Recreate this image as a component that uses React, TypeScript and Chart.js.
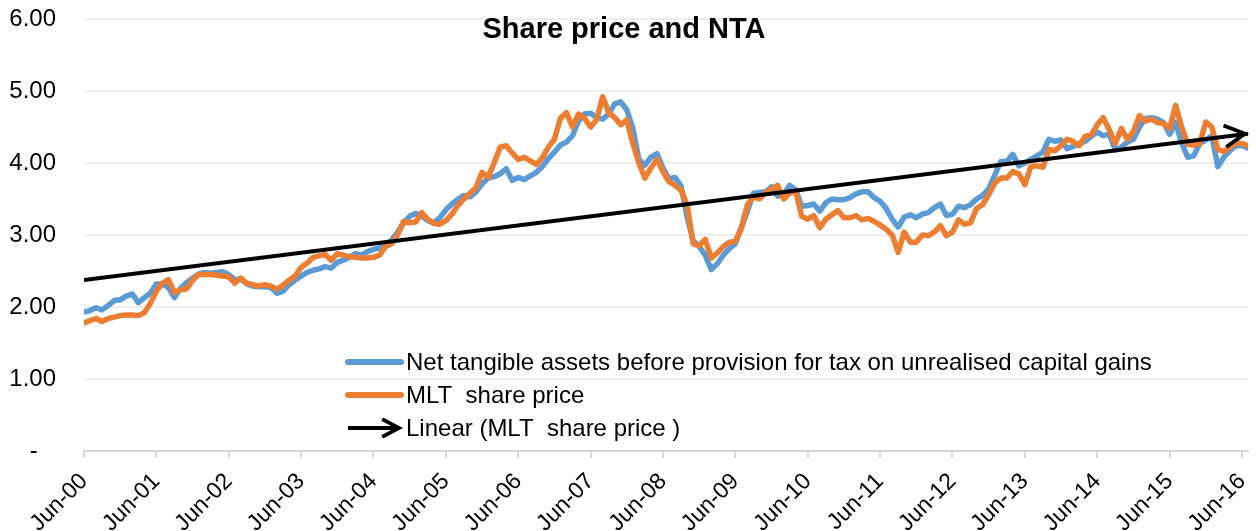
import React, { useEffect, useRef } from "react";
import { Chart, registerables } from "chart.js";

Chart.register(...registerables);

const FONT = "'Liberation Sans', Arial, sans-serif";

const TITLE = "Share price and NTA";

const SERIES_LABELS = [
  "Net tangible assets before provision for tax on unrealised capital gains",
  "MLT  share price",
  "Linear (MLT  share price )",
];

// Monthly observations, Jun-00 (index 0) to Jul-16 (index 193)
const NTA = [
  1.93, 1.95, 1.99, 1.96, 2.02, 2.09, 2.10, 2.15, 2.18, 2.06, 2.13, 2.19,
  2.32, 2.32, 2.27, 2.13, 2.26, 2.34, 2.40, 2.46, 2.48, 2.47, 2.48, 2.49,
  2.45, 2.38, 2.39, 2.32, 2.29, 2.28, 2.28, 2.27, 2.19, 2.22, 2.31, 2.37,
  2.43, 2.48, 2.51, 2.53, 2.56, 2.54, 2.62, 2.65, 2.69, 2.74, 2.72, 2.77,
  2.80, 2.82, 2.86, 2.93, 3.04, 3.17, 3.26, 3.30, 3.26, 3.20, 3.17, 3.24,
  3.35, 3.43, 3.50, 3.55, 3.53, 3.60, 3.71, 3.79, 3.81, 3.85, 3.92, 3.76,
  3.80, 3.77, 3.82, 3.87, 3.95, 4.06, 4.15, 4.25, 4.29, 4.38, 4.58, 4.68,
  4.69, 4.63, 4.61, 4.68, 4.82, 4.85, 4.74, 4.48, 4.05, 3.97, 4.08, 4.13,
  3.93, 3.78, 3.80, 3.68, 3.25, 2.92, 2.84, 2.72, 2.52, 2.60, 2.72, 2.81,
  2.88, 3.10, 3.33, 3.58, 3.59, 3.60, 3.67, 3.54, 3.56, 3.69, 3.63, 3.40,
  3.41, 3.43, 3.33, 3.45, 3.50, 3.49, 3.49, 3.52, 3.57, 3.60, 3.60, 3.52,
  3.47, 3.37, 3.22, 3.11, 3.25, 3.28, 3.24, 3.29, 3.31, 3.38, 3.43, 3.27,
  3.29, 3.40, 3.38, 3.42, 3.50, 3.55, 3.64, 3.83, 4.02, 4.02, 4.12, 3.96,
  4.00, 4.05, 4.10, 4.15, 4.33, 4.30, 4.32, 4.20, 4.23, 4.27, 4.30, 4.37,
  4.43, 4.38, 4.40, 4.18, 4.22, 4.29, 4.33, 4.50, 4.62, 4.63, 4.61, 4.56,
  4.40, 4.56, 4.28, 4.08, 4.10, 4.27, 4.32, 4.38, 3.95, 4.08, 4.17, 4.24,
  4.24, 4.21,
];

const PRICE = [
  1.78, 1.81, 1.84, 1.80, 1.84, 1.86, 1.88, 1.89, 1.89, 1.88, 1.92, 2.05,
  2.22, 2.33, 2.38, 2.20, 2.24, 2.25, 2.37, 2.45, 2.45, 2.45, 2.44, 2.43,
  2.42, 2.33, 2.40, 2.33, 2.31, 2.29, 2.31, 2.29, 2.25, 2.30, 2.37, 2.43,
  2.55, 2.61, 2.69, 2.71, 2.73, 2.65, 2.74, 2.72, 2.70, 2.69, 2.68, 2.68,
  2.69, 2.72, 2.84, 2.88, 3.00, 3.19, 3.17, 3.18, 3.31, 3.22, 3.16, 3.15,
  3.20, 3.29, 3.41, 3.50, 3.58, 3.66, 3.87, 3.80, 4.00, 4.22, 4.24, 4.14,
  4.05, 4.08, 4.03, 3.98, 4.07, 4.22, 4.33, 4.62, 4.70, 4.50, 4.68, 4.62,
  4.50, 4.60, 4.92, 4.70, 4.63, 4.53, 4.60, 4.27, 4.00, 3.79, 3.93, 4.05,
  3.88, 3.74, 3.69, 3.62, 3.42, 2.88, 2.85, 2.94, 2.68, 2.75, 2.84, 2.90,
  2.91, 3.10, 3.42, 3.53, 3.50, 3.59, 3.64, 3.69, 3.50, 3.58, 3.61, 3.26,
  3.22, 3.27, 3.10, 3.22, 3.28, 3.34, 3.24, 3.24, 3.27, 3.21, 3.23, 3.19,
  3.14, 3.08, 3.00, 2.76, 3.04, 2.90, 2.90, 3.00, 2.99, 3.04, 3.13, 2.99,
  3.04, 3.21, 3.15, 3.17, 3.37, 3.42, 3.56, 3.72, 3.79, 3.79, 3.88, 3.85,
  3.70, 3.95, 3.96, 3.94, 4.19, 4.17, 4.24, 4.33, 4.30, 4.24, 4.37, 4.39,
  4.53, 4.63, 4.46, 4.27, 4.48, 4.33, 4.44, 4.66, 4.58, 4.61, 4.56, 4.55,
  4.48, 4.80, 4.50, 4.26, 4.25, 4.27, 4.57, 4.50, 4.19, 4.16, 4.22, 4.28,
  4.27, 4.24,
];

const X_TICK_LABELS = [
  "Jun-00", "Jun-01", "Jun-02", "Jun-03", "Jun-04", "Jun-05", "Jun-06",
  "Jun-07", "Jun-08", "Jun-09", "Jun-10", "Jun-11", "Jun-12", "Jun-13",
  "Jun-14", "Jun-15", "Jun-16",
];
const MONTHS_PER_TICK = 12;

const Y_TICK_LABELS = ["-\u2007\u2009", "1.00", "2.00", "3.00", "4.00", "5.00", "6.00"];

const COLORS = ["#5B9BD5", "#ED7D31", "#000000"];

function linearFit(ys: number[]) {
  const n = ys.length;
  let sx = 0, sy = 0, sxx = 0, sxy = 0;
  ys.forEach((y, x) => {
    sx += x; sy += y; sxx += x * x; sxy += x * y;
  });
  const b = (n * sxy - sx * sy) / (n * sxx - sx * sx);
  const a = (sy - b * sx) / n;
  return { a, b };
}

function chevron(ctx: CanvasRenderingContext2D, x0: number, y0: number, x1: number, y1: number, len: number, width: number) {
  const ang = Math.atan2(y1 - y0, x1 - x0);
  const spread = (28 * Math.PI) / 180;
  ctx.save();
  ctx.strokeStyle = "#000";
  ctx.lineWidth = width;
  ctx.lineCap = "butt";
  ctx.lineJoin = "miter";
  ctx.beginPath();
  ctx.moveTo(x1 - len * Math.cos(ang - spread), y1 - len * Math.sin(ang - spread));
  ctx.lineTo(x1, y1);
  ctx.lineTo(x1 - len * Math.cos(ang + spread), y1 - len * Math.sin(ang + spread));
  ctx.stroke();
  ctx.restore();
}

const overlayPlugin = {
  id: "overlay",
  afterDatasetsDraw(chart: any) {
    const meta = chart.getDatasetMeta(2);
    const pts = meta.data;
    if (pts.length >= 2) {
      const p0 = pts[pts.length - 2];
      const p1 = pts[pts.length - 1];
      chevron(chart.ctx, p0.x, p0.y, p1.x - 3, p1.y, 23, 3.8);
    }
  },
  afterDraw(chart: any) {
    const ctx: CanvasRenderingContext2D = chart.ctx;
    ctx.save();
    // title
    ctx.fillStyle = "#000";
    ctx.font = `bold 29px ${FONT}`;
    ctx.textAlign = "center";
    ctx.textBaseline = "alphabetic";
    ctx.fillText(TITLE, 624, 38);

    // legend
    const rows = [362, 395, 428];
    const lx0 = 348, lx1 = 401, tx = 406;
    ctx.font = `24px ${FONT}`;
    ctx.textAlign = "left";
    ctx.textBaseline = "middle";
    rows.forEach((ry, i) => {
      ctx.save();
      ctx.strokeStyle = COLORS[i];
      ctx.lineWidth = i < 2 ? 6 : 3.8;
      ctx.lineCap = i < 2 ? "round" : "butt";
      ctx.beginPath();
      ctx.moveTo(lx0, ry);
      ctx.lineTo(i < 2 ? lx1 : lx1 - 2, ry);
      ctx.stroke();
      ctx.restore();
      if (i === 2) chevron(ctx, lx0, ry, lx1 - 2, ry, 19, 3.8);
      ctx.fillStyle = "#000";
      ctx.fillText(SERIES_LABELS[i], tx, ry + 1);
    });
    ctx.restore();
  },
};

export default function App() {
  const ref = useRef<HTMLCanvasElement | null>(null);

  useEffect(() => {
    if (!ref.current) return;
    const { a, b } = linearFit(PRICE);
    const last = PRICE.length - 1;
    const chart = new Chart(ref.current, {
      type: "line",
      data: {
        datasets: [
          {
            label: SERIES_LABELS[0],
            data: NTA.map((y, x) => ({ x, y })),
            borderColor: COLORS[0],
            backgroundColor: COLORS[0],
            borderWidth: 5.5,
            pointRadius: 0,
            tension: 0,
            borderJoinStyle: "round",
            borderCapStyle: "round",
            order: 3,
          },
          {
            label: SERIES_LABELS[1],
            data: PRICE.map((y, x) => ({ x, y })),
            borderColor: COLORS[1],
            backgroundColor: COLORS[1],
            borderWidth: 5.5,
            pointRadius: 0,
            tension: 0,
            borderJoinStyle: "round",
            borderCapStyle: "round",
            order: 2,
          },
          {
            label: SERIES_LABELS[2],
            data: [
              { x: 0, y: a },
              { x: last, y: a + b * last },
            ],
            borderColor: COLORS[2],
            backgroundColor: COLORS[2],
            borderWidth: 3.8,
            pointRadius: 0,
            tension: 0,
            order: 1,
          },
        ],
      },
      options: {
        responsive: false,
        animation: false,
        events: [],
        layout: { padding: { top: 19, right: 8, left: 0, bottom: 0 } },
        plugins: {
          legend: { display: false },
          title: { display: false },
          tooltip: { enabled: false },
        },
        scales: {
          x: {
            type: "linear",
            min: 0,
            max: last,
            afterBuildTicks: (s: any) => {
              s.ticks = X_TICK_LABELS.map((_, i) => ({ value: i * MONTHS_PER_TICK }));
            },
            afterFit: (s: any) => {
              s.height = 80;
              s.paddingLeft = 0;
              s.paddingRight = 0;
            },
            ticks: {
              autoSkip: false,
              minRotation: 45,
              maxRotation: 45,
              padding: 10,
              color: "#000",
              font: { family: FONT, size: 23 },
              callback: (v: any) => X_TICK_LABELS[Math.round(Number(v) / MONTHS_PER_TICK)] ?? "",
            },
            grid: {
              display: true,
              drawOnChartArea: false,
              drawTicks: true,
              tickLength: 7,
              color: "#D9D9D9",
              lineWidth: 2,
            },
            border: { display: true, color: "#D9D9D9", width: 2 },
          },
          y: {
            min: 0,
            max: 6,
            afterBuildTicks: (s: any) => {
              s.ticks = Y_TICK_LABELS.map((_, i) => ({ value: i }));
            },
            afterFit: (s: any) => {
              s.width = 84;
              s.paddingTop = 0;
              s.paddingBottom = 0;
            },
            ticks: {
              padding: 28,
              color: "#000",
              font: { family: FONT, size: 24 },
              callback: (v: any) => Y_TICK_LABELS[Math.round(Number(v))] ?? "",
            },
            grid: { color: "#EEEEEE", lineWidth: 2, drawTicks: false },
            border: { display: false },
          },
        },
      },
      plugins: [overlayPlugin],
    });
    return () => chart.destroy();
  }, []);

  return (
    <div
      style={{
        position: "fixed",
        left: 0,
        top: 0,
        width: 1256,
        height: 531,
        background: "#fff",
      }}
    >
      <canvas ref={ref} width={1256} height={531} style={{ width: 1256, height: 531 }} />
    </div>
  );
}
